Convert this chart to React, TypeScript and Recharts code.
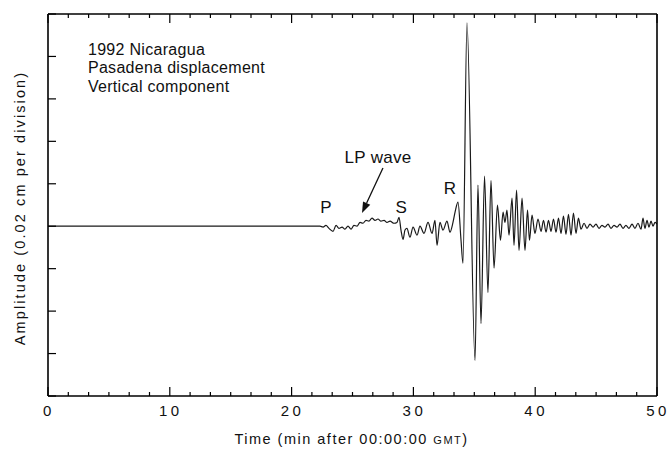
import React from "react";
import { LineChart, Line, XAxis, YAxis, ReferenceDot, ReferenceLine } from "recharts";

// Time in minutes after 00:00:00 GMT
const times = [
  0, 22.33, 22.58, 22.82, 23.07, 23.4, 23.65, 23.89, 24.14, 24.38, 24.63, 24.88, 25.12, 25.37,
  25.62, 25.86, 26.11, 26.35, 26.6, 26.85, 27.09, 27.34, 27.59, 27.83, 28.08, 28.41, 28.65,
  28.82, 28.98, 29.15, 29.31, 29.47, 29.72, 29.97, 30.3, 30.54, 30.87, 31.2, 31.53, 31.77,
  31.94, 32.18, 32.43, 32.76, 33.0, 33.25, 33.42, 33.66, 33.91, 34.07, 34.4, 35.06, 35.3,
  35.55, 35.84, 36.12, 36.37, 36.62, 36.9, 37.15, 37.36, 37.52, 37.68, 37.85, 38.1, 38.26,
  38.47, 38.67, 38.92, 39.16, 39.37, 39.53, 39.74, 39.98, 40.23, 40.48, 40.68, 40.89, 41.09,
  41.3, 41.5, 41.71, 41.91, 42.12, 42.32, 42.53, 42.73, 42.94, 43.14, 43.35, 43.55, 43.76,
  44.01, 44.25, 44.5, 44.75, 44.99, 45.24, 45.48, 45.73, 45.98, 46.22, 46.47, 46.72, 46.96,
  47.21, 47.45, 47.7, 47.95, 48.19, 48.44, 48.69, 48.85, 49.01, 49.18, 49.34, 49.51, 49.67,
  49.84, 50.0,
];

// Vertical displacement in divisions (0.02 cm per division)
const amps = [
  0, 0, -0.02, 0.02, -0.05, -0.12, 0.02, -0.05, -0.02, -0.07, 0, -0.07, 0.02, 0,
  0.09, 0.07, 0.14, 0.12, 0.19, 0.14, 0.17, 0.12, 0.14, 0.09, 0.12, 0.07, 0.09,
  0.21, -0.09, -0.31, -0.09, -0.05, -0.26, -0.02, -0.21, 0, -0.17, 0.09, -0.17, 0.14,
  -0.45, 0.09, -0.09, 0.12, -0.14, 0.09, 0.33, 0.57, -0.33, -0.87, 4.79, -3.16, 0.97,
  -2.29, 1.18, -1.56, 1.08, -0.99, 0.5, -0.33, 0.33, 0.09, 0.38, -0.21, 0.66, -0.45,
  0.85, -0.57, 0.66, -0.57, 0.38, -0.33, 0.26, -0.17, 0.17, -0.12, 0.14, -0.14, 0.14,
  -0.12, 0.17, -0.14, 0.19, -0.17, 0.24, -0.19, 0.28, -0.21, 0.31, -0.17, 0.19, -0.07,
  0.07, -0.05, 0.05, -0.02, 0.05, -0.05, 0.02, -0.02, 0.05, -0.05, 0.02, -0.02, 0.05,
  -0.05, 0.02, -0.05, 0.05, -0.05, 0.07, -0.07, 0.19, -0.05, 0.14, -0.02, 0.12, 0,
  0.09, 0.05,
];

const xMajorTicks = [0, 10, 20, 30, 40, 50];
const xSubdivisions = 6;
const yTicks = [-4, -3, -2, -1, 0, 1, 2, 3, 4, 5];

const insetLines = ["1992 Nicaragua", "Pasadena displacement", "Vertical component"];
const insetPos = { t: 3.28, v: 4.04 };

const phaseLabels = [
  { name: "P", t: 22.82, v: 0.45 },
  { name: "S", t: 29.0, v: 0.46 },
  { name: "R", t: 33.0, v: 0.91 },
  { name: "LP wave", t: 27.1, v: 1.63 },
];
const arrowFrom = { t: 27.5, v: 1.37 };
const arrowTo = { t: 25.78, v: 0.31 };

const data = times.map((t, i) => ({ t, v: amps[i] }));

const xTicks: number[] = [];
for (let i = 0; i < xMajorTicks.length - 1; i++) {
  const a = xMajorTicks[i];
  const b = xMajorTicks[i + 1];
  for (let k = 0; k < xSubdivisions; k++) xTicks.push(a + ((b - a) * k) / xSubdivisions);
}
xTicks.push(xMajorTicks[xMajorTicks.length - 1]);

const isMajor = (v: number) => xMajorTicks.some((m) => Math.abs(m - v) < 1e-6);
const FONT = "'Liberation Sans', Arial, Helvetica, sans-serif";

const BottomTick = (props: any) => {
  const { x, y, payload } = props;
  const major = isMajor(payload.value);
  return (
    <g>
      <line x1={x} x2={x} y1={y} y2={y - (major ? 9 : 4)} stroke="#000" strokeWidth={1.2} />
      {major && (
        <text x={x + 1} y={y + 20} textAnchor="middle" fontFamily={FONT} fontSize={15} letterSpacing={3.5} fill="#111">
          {payload.value}
        </text>
      )}
    </g>
  );
};

const TopTick = (props: any) => {
  const { x, y, payload } = props;
  const major = isMajor(payload.value);
  return <line x1={x} x2={x} y1={y} y2={y + (major ? 9 : 4)} stroke="#000" strokeWidth={1.2} />;
};

const LeftTick = (props: any) => {
  const { x, y } = props;
  return <line x1={x} x2={x + 8} y1={y} y2={y} stroke="#000" strokeWidth={1.2} />;
};

const RightTick = (props: any) => {
  const { x, y } = props;
  return <line x1={x} x2={x - 8} y1={y} y2={y} stroke="#000" strokeWidth={1.2} />;
};

export default function App() {
  return (
    <div style={{ position: "absolute", left: 0, top: 0, background: "#fff" }}>
      <LineChart width={671} height={449} data={data} margin={{ top: 0, right: 0, bottom: 0, left: 0 }}>
        <XAxis
          xAxisId="b"
          type="number"
          dataKey="t"
          domain={[0, 50]}
          ticks={xTicks}
          interval={0}
          height={53}
          tickSize={0}
          tickMargin={0}
          tickLine={false}
          tick={<BottomTick />}
          axisLine={{ stroke: "#000", strokeWidth: 1.6 }}
          allowDataOverflow
          label={(p: any) => {
            const vb = p.viewBox;
            return (
              <text x={vb.x + vb.width / 2 - 1} y={vb.y + 48} textAnchor="middle" fontFamily={FONT} fontSize={14.5} letterSpacing={1.5} fill="#111">
                Time (min after 00:00:00 <tspan fontSize={11}>GMT</tspan>)
              </text>
            );
          }}
        />
        <XAxis
          xAxisId="t"
          orientation="top"
          type="number"
          dataKey="t"
          domain={[0, 50]}
          ticks={xTicks}
          interval={0}
          height={14}
          tickSize={0}
          tickMargin={0}
          tickLine={false}
          tick={<TopTick />}
          axisLine={{ stroke: "#000", strokeWidth: 1.6 }}
        />
        <YAxis
          yAxisId="l"
          type="number"
          domain={[-4, 5]}
          ticks={yTicks}
          interval={0}
          width={48}
          tickSize={0}
          tickMargin={0}
          tickLine={false}
          tick={<LeftTick />}
          axisLine={{ stroke: "#000", strokeWidth: 1.6 }}
          allowDataOverflow
          label={(p: any) => {
            const vb = p.viewBox;
            const cx = vb.x + 20;
            const cy = vb.y + vb.height / 2 + 3;
            return (
              <text x={cx} y={cy} transform={`rotate(-90 ${cx} ${cy})`} textAnchor="middle" dominantBaseline="central" fontFamily={FONT} fontSize={14.5} letterSpacing={2.1} fill="#111">
                Amplitude (0.02 cm per division)
              </text>
            );
          }}
        />
        <YAxis
          yAxisId="r"
          orientation="right"
          type="number"
          domain={[-4, 5]}
          ticks={yTicks}
          interval={0}
          width={14}
          tickSize={0}
          tickMargin={0}
          tickLine={false}
          tick={<RightTick />}
          axisLine={{ stroke: "#000", strokeWidth: 1.6 }}
        />
        <Line
          xAxisId="b"
          yAxisId="l"
          type="monotone"
          dataKey="v"
          stroke="#1a1a1a"
          strokeWidth={1.2}
          dot={false}
          isAnimationActive={false}
        />
        <ReferenceDot
          xAxisId="b"
          yAxisId="l"
          x={insetPos.t}
          y={insetPos.v}
          r={0}
          ifOverflow="visible"
          shape={(p: any) => (
            <text x={p.cx} y={p.cy} fontFamily={FONT} fontSize={16} letterSpacing={0.3} fill="#111">
              {insetLines.map((s, i) => (
                <tspan key={i} x={p.cx} dy={i === 0 ? 0 : 18.5}>
                  {s}
                </tspan>
              ))}
            </text>
          )}
        />
        {phaseLabels.map((l) => (
          <ReferenceDot
            key={l.name}
            xAxisId="b"
            yAxisId="l"
            x={l.t}
            y={l.v}
            r={0}
            ifOverflow="visible"
            shape={(p: any) => (
              <text x={p.cx} y={p.cy} dy="0.36em" textAnchor="middle" fontFamily={FONT} fontSize={17} letterSpacing={0.3} fill="#111">
                {l.name}
              </text>
            )}
          />
        ))}
        <ReferenceLine
          xAxisId="b"
          yAxisId="l"
          segment={[
            { x: arrowFrom.t, y: arrowFrom.v },
            { x: arrowTo.t, y: arrowTo.v },
          ]}
          ifOverflow="visible"
          shape={(p: any) => {
            const { x1, y1, x2, y2 } = p;
            const ang = Math.atan2(y2 - y1, x2 - x1);
            const L = 11;
            const W = 4;
            const bx = x2 - L * Math.cos(ang);
            const by = y2 - L * Math.sin(ang);
            const px = -Math.sin(ang) * W;
            const py = Math.cos(ang) * W;
            return (
              <g>
                <line x1={x1} y1={y1} x2={bx} y2={by} stroke="#111" strokeWidth={1.3} />
                <polygon points={`${x2},${y2} ${bx + px},${by + py} ${bx - px},${by - py}`} fill="#111" />
              </g>
            );
          }}
        />
      </LineChart>
    </div>
  );
}
